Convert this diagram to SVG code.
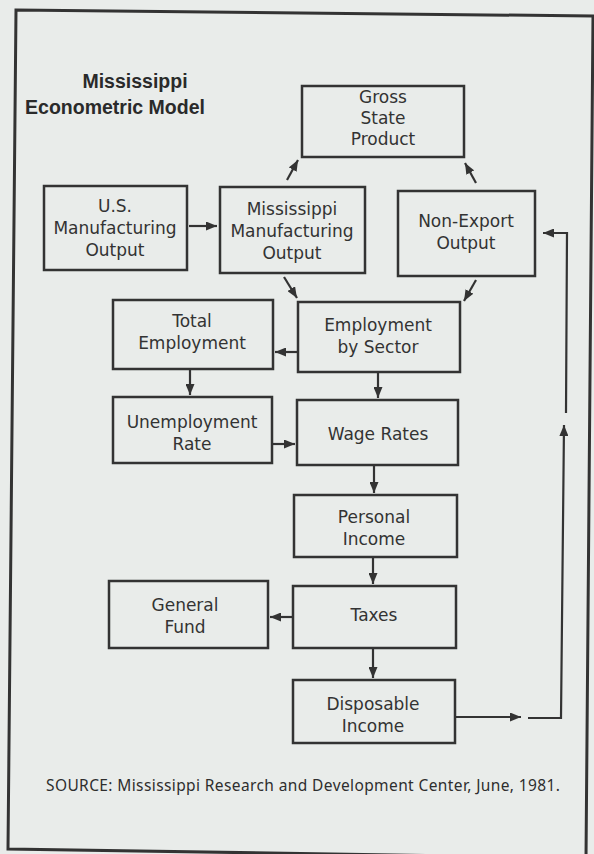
<svg xmlns="http://www.w3.org/2000/svg" width="594" height="854" viewBox="0 0 594 854">
<style>
.box{fill:none;stroke:#333;stroke-width:2.5}
.t{font-family:"DejaVu Sans","Noto Sans",sans-serif;font-size:17px;fill:#333;text-anchor:middle}
.title{font-family:"Liberation Sans",Arial,sans-serif;font-weight:bold;font-size:19.5px;fill:#2a2a2a;text-anchor:middle}
.src{font-family:"Noto Sans","Open Sans",sans-serif;font-size:15.5px;fill:#2e2e2e}
.c{fill:none;stroke:#333;stroke-width:2.2}
.a{marker-end:url(#ah)}
</style>
<defs>
<marker id="ah" markerUnits="userSpaceOnUse" markerWidth="11" markerHeight="9" refX="11" refY="4.5" orient="auto">
<path d="M0,0 L11,4.5 L0,9 z" fill="#333"/>
</marker>
</defs>
<rect width="594" height="854" fill="#e9ecea"/>
<polygon points="16,10 593,16 586,858 8,849" fill="none" stroke="#333" stroke-width="3"/>
<g id="title">
<text class="title" x="135" y="88">Mississippi</text>
<text class="title" x="115" y="114">Econometric Model</text>
</g>
<g id="gsp">
<rect class="box" x="302" y="86" width="162" height="71"/>
<text class="t" x="383" y="103">Gross</text>
<text class="t" x="383" y="124">State</text>
<text class="t" x="383" y="145">Product</text>
</g>
<g id="usmfg">
<rect class="box" x="44" y="186" width="143" height="84"/>
<text class="t" x="115" y="212">U.S.</text>
<text class="t" x="115" y="234">Manufacturing</text>
<text class="t" x="115" y="256">Output</text>
</g>
<g id="msmfg">
<rect class="box" x="220" y="187" width="145" height="86"/>
<text class="t" x="292" y="215">Mississippi</text>
<text class="t" x="292" y="237">Manufacturing</text>
<text class="t" x="292" y="259">Output</text>
</g>
<g id="nonexport">
<rect class="box" x="398" y="191" width="137" height="85"/>
<text class="t" x="466" y="227">Non-Export</text>
<text class="t" x="466" y="249">Output</text>
</g>
<g id="totalemp">
<rect class="box" x="113" y="300" width="160" height="69"/>
<text class="t" x="192" y="327">Total</text>
<text class="t" x="192" y="349">Employment</text>
</g>
<g id="empsector">
<rect class="box" x="298" y="302" width="162" height="70"/>
<text class="t" x="378" y="331">Employment</text>
<text class="t" x="378" y="353">by Sector</text>
</g>
<g id="unemp">
<rect class="box" x="113" y="397" width="159" height="66"/>
<text class="t" x="192" y="428">Unemployment</text>
<text class="t" x="192" y="450">Rate</text>
</g>
<g id="wage">
<rect class="box" x="297" y="400" width="161" height="65"/>
<text class="t" x="378" y="440">Wage Rates</text>
</g>
<g id="personal">
<rect class="box" x="294" y="495" width="163" height="62"/>
<text class="t" x="374" y="523">Personal</text>
<text class="t" x="374" y="545">Income</text>
</g>
<g id="general">
<rect class="box" x="109" y="581" width="159" height="67"/>
<text class="t" x="185" y="611">General</text>
<text class="t" x="185" y="633">Fund</text>
</g>
<g id="taxes">
<rect class="box" x="293" y="586" width="163" height="62"/>
<text class="t" x="374" y="621">Taxes</text>
</g>
<g id="disposable">
<rect class="box" x="293" y="680" width="162" height="63"/>
<text class="t" x="373" y="710">Disposable</text>
<text class="t" x="373" y="732">Income</text>
</g>
<g id="connectors">
<line class="c a" x1="189" y1="226" x2="217" y2="226"/>
<line class="c a" x1="287" y1="180" x2="298" y2="160"/>
<line class="c a" x1="476" y1="183" x2="465" y2="163"/>
<line class="c a" x1="284" y1="277" x2="297" y2="298"/>
<line class="c a" x1="476" y1="280" x2="464" y2="301"/>
<line class="c a" x1="298" y1="352" x2="275" y2="352"/>
<line class="c a" x1="190" y1="369" x2="190" y2="395"/>
<line class="c a" x1="378" y1="372" x2="378" y2="398"/>
<line class="c a" x1="272" y1="444" x2="295" y2="444"/>
<line class="c a" x1="374" y1="465" x2="374" y2="493"/>
<line class="c a" x1="373" y1="557" x2="373" y2="584"/>
<line class="c a" x1="293" y1="617" x2="270" y2="617"/>
<line class="c a" x1="373" y1="648" x2="373" y2="678"/>
<line class="c a" x1="455" y1="717" x2="521" y2="717"/>
<polyline class="c a" points="528,718 561,718 564,425"/>
<polyline class="c a" points="566,413 567,233 543,233"/>
</g>
<g id="source">
<text class="src" x="46" y="791" textLength="514" lengthAdjust="spacing">SOURCE: Mississippi Research and Development Center, June, 1981.</text>
</g>
</svg>
